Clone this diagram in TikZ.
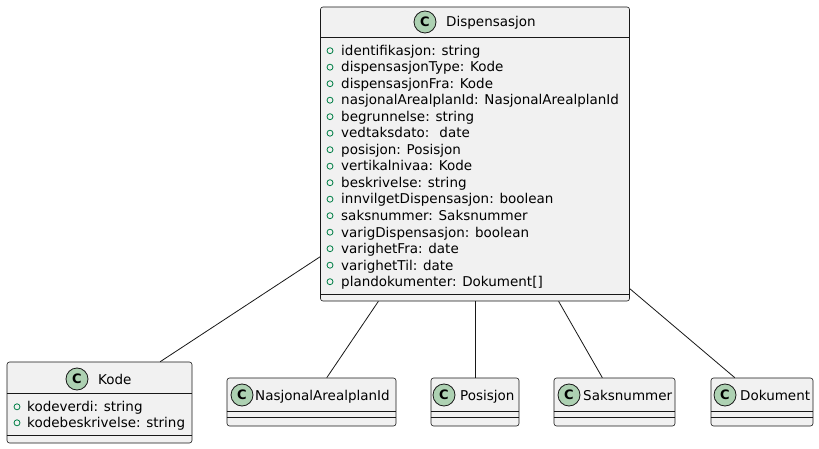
\documentclass[tikz,border=0pt]{standalone}
\usepackage{fontspec}
\setmainfont{DejaVu Sans}
\usetikzlibrary{calc}
\definecolor{boxfill}{HTML}{F1F1F1}
\definecolor{boxline}{HTML}{181818}
\definecolor{iconfill}{HTML}{ADD1B2}
\definecolor{pubgreen}{HTML}{038048}
\begin{document}
\begin{tikzpicture}[x=1pt,y=-1pt,
  classbox/.style={draw=boxline, fill=boxfill, rounded corners=2.5pt, line width=0.6pt, inner sep=0pt},
  sepline/.style={draw=boxline, line width=0.6pt},
  icon/.style={circle, draw=boxline, fill=iconfill, line width=0.8pt, minimum size=22pt, inner sep=0pt, font=\bfseries\fontsize{13}{13}\selectfont},
  title/.style={anchor=base west, inner sep=0pt, font=\fontsize{13.5}{16}\selectfont},
  attr/.style={anchor=base west, inner sep=0pt, font=\fontsize{13.5}{16}\selectfont},
  pubmark/.style={draw=pubgreen, line width=0.8pt},
  link/.style={draw=boxline, line width=0.8pt}]
\useasboundingbox (0,0) rectangle (819,449);
\fill[white] (0,0) rectangle (819,449);

% Dispensasjon
\node[classbox, minimum width=309pt, minimum height=294pt] (disp) at (475,154) {};
\draw[sepline] ($(disp.north west)+(0,31)$) -- ($(disp.north east)+(0,31)$);
\draw[sepline] ($(disp.south west)+(0,-7)$) -- ($(disp.south east)+(0,-7)$);
\node[icon] (dispicon) at (425,22) {C};
\node[title] (disptitle) at (446,27) {Dispensasjon};
\foreach \t [count=\i from 0] in {identifikasjon: string, dispensasjonType: Kode, dispensasjonFra: Kode, nasjonalArealplanId: NasjonalArealplanId, begrunnelse: string, vedtaksdato: \ date, posisjon: Posisjon, vertikalnivaa: Kode, beskrivelse: string, innvilgetDispensasjon: boolean, saksnummer: Saksnummer, varigDispensasjon: boolean, varighetFra: date, varighetTil: date, plandokumenter: Dokument[]}{
  \draw[pubmark] (330,55.5+16.5*\i-4.8) circle (3pt);
  \node[attr] at (341,55.5+16.5*\i) {\t};
}

% Kode
\node[classbox, minimum width=185pt, minimum height=81pt] (kode) at (99.5,402.5) {};
\draw[sepline] ($(kode.north west)+(0,32)$) -- ($(kode.north east)+(0,32)$);
\draw[sepline] ($(kode.south west)+(0,-8)$) -- ($(kode.south east)+(0,-8)$);
\node[icon] (kodeicon) at (77,379) {C};
\node[title] (kodetitle) at (98,384) {Kode};
\draw[pubmark] (17,406.8) circle (3pt);
\node[attr] at (27,411.6) {kodeverdi: string};
\draw[pubmark] (17,422.8) circle (3pt);
\node[attr] at (27,427.6) {kodebeskrivelse: string};

% small classes
\node[classbox, minimum width=169pt, minimum height=48pt] (nasj) at (311.5,402) {};
\node[classbox, minimum width=88pt, minimum height=48pt] (posi) at (475,402) {};
\node[classbox, minimum width=121pt, minimum height=48pt] (saks) at (614.5,402) {};
\node[classbox, minimum width=102pt, minimum height=48pt] (doku) at (762,402) {};
\foreach \n in {nasj,posi,saks,doku}{
  \draw[sepline] ($(\n.north west)+(0,34)$) -- ($(\n.north east)+(0,34)$);
  \draw[sepline] ($(\n.north west)+(0,40)$) -- ($(\n.north east)+(0,40)$);
}
\node[icon] (nasjicon) at (242,395) {C};
\node[title] (nasjtitle) at (255,400) {NasjonalArealplanId};
\node[icon] (posiicon) at (444,395) {C};
\node[title] (posititle) at (460,400) {Posisjon};
\node[icon] (saksicon) at (569,395) {C};
\node[title] (sakstitle) at (583,400) {Saksnummer};
\node[icon] (dokuicon) at (725,395) {C};
\node[title] (dokutitle) at (740,400) {Dokument};

% connectors
\draw[link] ($(disp.north west)+(0,250)$) -- ($(kode.north west)!0.827!(kode.north east)$);
\draw[link] ($(disp.south west)!0.188!(disp.south east)$) -- ($(nasj.north west)!0.59!(nasj.north east)$);
\draw[link] (disp.south) -- (posi.north);
\draw[link] ($(disp.south west)!0.77!(disp.south east)$) -- ($(saks.north west)!0.4!(saks.north east)$);
\draw[link] ($(disp.north east)+(0,282)$) -- ($(doku.north west)!0.235!(doku.north east)$);
\end{tikzpicture}
\end{document}
